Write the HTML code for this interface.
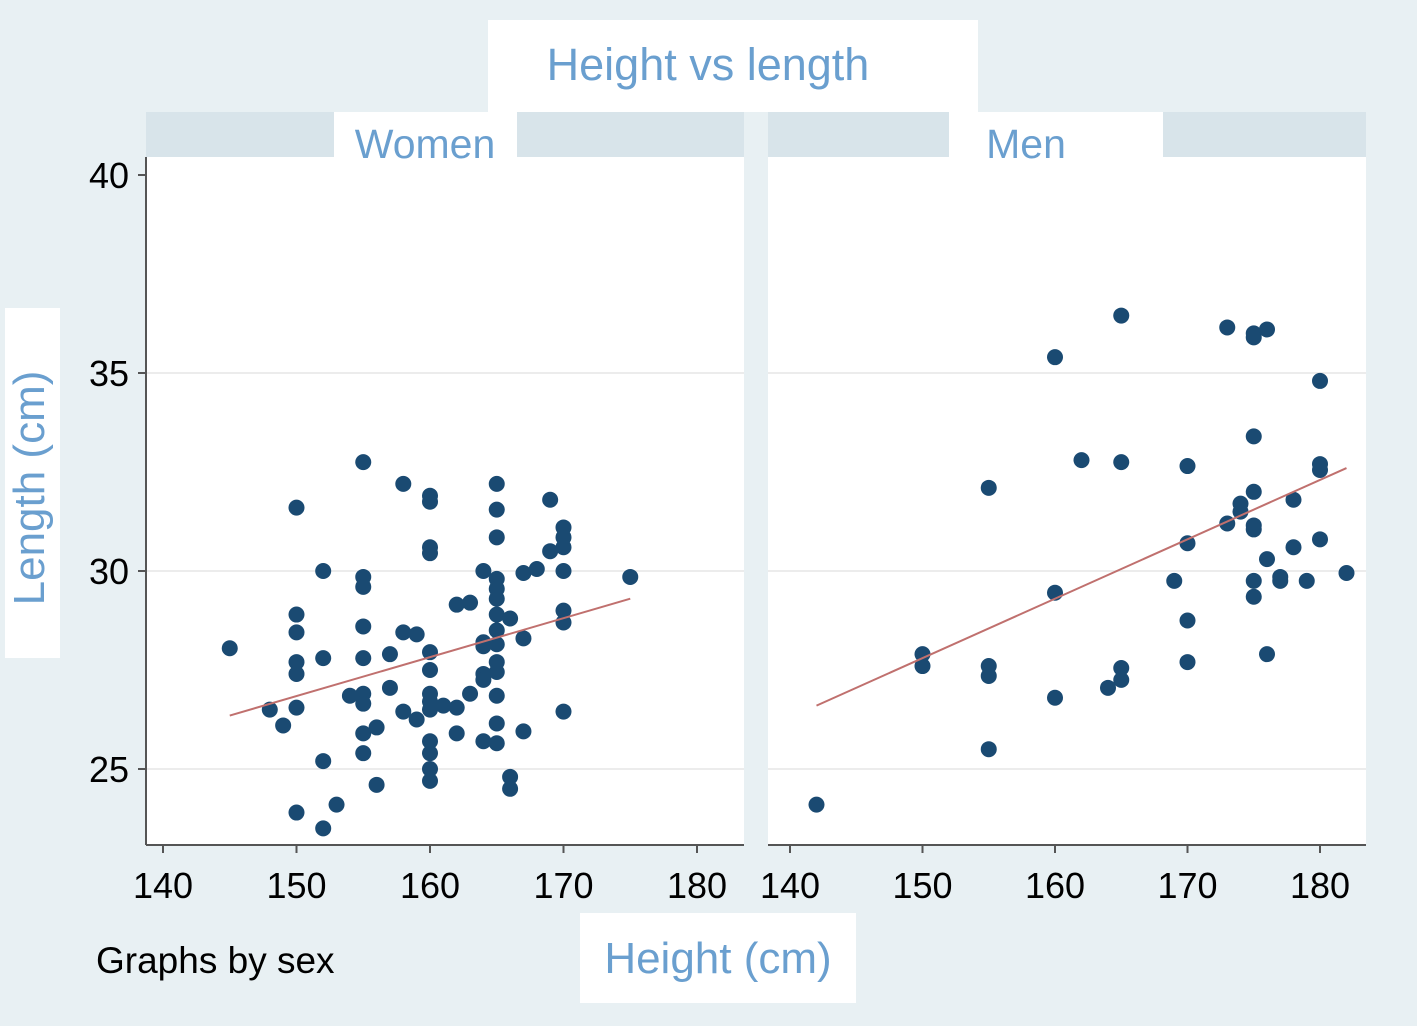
<!DOCTYPE html>
<html><head><meta charset="utf-8"><style>
body{margin:0;background:#e8f0f3;}
svg{display:block;font-family:"Liberation Sans",sans-serif;}
</style></head><body>
<svg id="chart" width="1417" height="1026" viewBox="0 0 1417 1026">
<rect x="0" y="0" width="1417" height="1026" fill="#e8f0f3"/>
<rect x="488" y="20" width="490" height="92" fill="#fff"/>
<text x="708" y="80" text-anchor="middle" font-size="45" fill="#6a9fcf">Height vs length</text>
<rect x="146" y="112" width="598" height="45" fill="#d8e4ea"/>
<rect x="334" y="112" width="183" height="46" fill="#fff"/>
<rect x="768" y="112" width="598" height="45" fill="#d8e4ea"/>
<rect x="949" y="112" width="214" height="46" fill="#fff"/>
<rect x="146" y="157" width="598" height="688" fill="#fff"/>
<rect x="768" y="157" width="598" height="688" fill="#fff"/>
<text x="425" y="158" text-anchor="middle" font-size="41" fill="#6a9fcf">Women</text>
<text x="1026" y="158" text-anchor="middle" font-size="41" fill="#6a9fcf">Men</text>
<g id="women"></g>
<g id="men"></g>
<g id="yaxis"></g>
<rect x="5" y="308" width="55" height="350" fill="#fff"/>
<text transform="translate(44,488) rotate(-90)" text-anchor="middle" font-size="44" fill="#6a9fcf">Length (cm)</text>
<rect x="580" y="913" width="276" height="90" fill="#fff"/>
<text x="718" y="973" text-anchor="middle" font-size="44" fill="#6a9fcf">Height (cm)</text>
<text x="96" y="973" font-size="37" fill="#000">Graphs by sex</text>
</svg>
<script>
const xTicks = [140, 150, 160, 170, 180];
const yTicks = [25, 30, 35, 40];
const womenHeight = [145,148,149,150,150,150,150,150,150,150,152,152,152,152,153,155,155,155,155,155,155,155,155,155,154,156,156,157,157,158,158,158,159,159,160,160,160,160,160,160,160,160,160,160,160,160,160,161,162,162,162,163,163,164,164,164,164,164,164,165,165,165,165,165,165,165,165,165,165,165,165,165,165,166,166,166,167,167,167,168,169,169,170,170,170,170,170,170,170,175];
const womenLength = [28.05,26.5,26.1,31.6,28.9,28.45,27.7,27.4,26.55,23.9,30.0,27.8,25.2,23.5,24.1,32.75,29.85,29.6,28.6,27.8,26.9,26.65,25.9,25.4,26.85,26.05,24.6,27.9,27.05,32.2,28.45,26.45,28.4,26.25,31.9,31.75,30.6,30.45,27.95,27.5,26.9,26.7,26.5,25.7,25.4,25.0,24.7,26.6,29.15,26.55,25.9,29.2,26.9,30.0,28.2,28.1,27.4,27.25,25.7,32.2,31.55,30.85,29.8,29.55,29.3,28.9,28.5,28.15,27.7,27.45,26.85,26.15,25.65,28.8,24.8,24.5,29.95,28.3,25.95,30.05,31.8,30.5,31.1,30.85,30.6,30.0,29.0,28.7,26.45,29.85];
const womenFit = [[145, 26.35], [175, 29.3]];
const menHeight = [142,150,150,155,155,155,155,160,160,160,162,164,165,165,165,165,169,170,170,170,170,173,173,174,174,175,175,175,175,175,175,175,175,176,176,176,177,177,178,178,179,180,180,180,180,182];
const menLength = [24.1,27.9,27.6,32.1,27.6,27.35,25.5,35.4,29.45,26.8,32.8,27.05,36.45,32.75,27.55,27.25,29.75,32.65,30.7,28.75,27.7,36.15,31.2,31.7,31.5,35.9,36.0,33.4,32.0,31.15,31.05,29.75,29.35,36.1,30.3,27.9,29.85,29.75,31.8,30.6,29.75,34.8,32.7,32.55,30.8,29.95];
const menFit = [[142, 26.6], [182, 32.6]];

const NS = "http://www.w3.org/2000/svg";
function yScale(v){ return 175 + (40 - v) * 39.6; }
function xWomen(v){ return 163 + (v - 140) * 13.35; }
function xMen(v){ return 790 + (v - 140) * 13.25; }
function mk(tag, attrs, parent){
  const e = document.createElementNS(NS, tag);
  for (const k in attrs) e.setAttribute(k, attrs[k]);
  parent.appendChild(e);
  return e;
}
function drawPanel(g, xs, heights, lengths, fit, x0, x1, name){
  yTicks.forEach(t => {
    if (t === 40) return;
    const l = mk('line', {x1:x0, x2:x1, y1:yScale(t), y2:yScale(t), stroke:'#ececec', 'stroke-width':2}, g);
    
    
  });
  const ax = mk('line', {x1:x0, x2:x1, y1:845, y2:845, stroke:'#555', 'stroke-width':2}, g);
  
  
  xTicks.forEach(t => {
    const tk = mk('line', {x1:xs(t), x2:xs(t), y1:845, y2:853, stroke:'#555', 'stroke-width':2}, g);
    
    
    const tx = mk('text', {x:xs(t), y:898, 'text-anchor':'middle', 'font-size':36, fill:'#000'}, g);
    tx.textContent = t;
    
    
  });
  heights.forEach((h, i) => {
    const c = mk('circle', {cx:xs(h), cy:yScale(lengths[i]), r:8, fill:'#1a4a72'}, g);
    
    
  });
  const fl = mk('line', {x1:xs(fit[0][0]), y1:yScale(fit[0][1]), x2:xs(fit[1][0]), y2:yScale(fit[1][1]), stroke:'#c0706e', 'stroke-width':2}, g);
  
  
}
drawPanel(document.getElementById('women'), xWomen, womenHeight, womenLength, womenFit, 146, 744, 'women');
drawPanel(document.getElementById('men'), xMen, menHeight, menLength, menFit, 768, 1366, 'men');
const ya = document.getElementById('yaxis');
const yl = mk('line', {x1:146, x2:146, y1:157, y2:845, stroke:'#555', 'stroke-width':2}, ya);


yTicks.forEach(t => {
  const tk = mk('line', {x1:138, x2:146, y1:yScale(t), y2:yScale(t), stroke:'#555', 'stroke-width':2}, ya);
  
  
  const tx = mk('text', {x:129, y:yScale(t) + 13, 'text-anchor':'end', 'font-size':36, fill:'#000'}, ya);
  tx.textContent = t;
  
  
});
</script>
</body></html>
